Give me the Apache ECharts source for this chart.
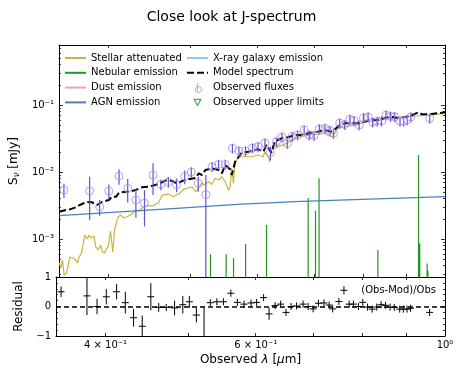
<!DOCTYPE html>
<html><head><meta charset="utf-8">
<script src="https://cdn.jsdelivr.net/npm/echarts@6/dist/echarts.min.js"></script>
<style>html,body{margin:0;padding:0;background:#fff}#c{width:463px;height:378px}</style>
</head><body><div id="c"></div>
<script>
// ---------- data (wavelength in micron, flux in mJy) ----------
const obsWave = [0.3548,0.3805,0.3910,0.4009,0.4122,0.4220,0.4315,0.4417,0.4521,0.4618,
  0.4713,0.4820,0.4928,0.5016,0.5112,0.5219,0.5308,0.5403,0.5500,0.5610,
  0.5710,0.5814,0.5925,0.6015,0.6129,0.6220,0.6323,0.6418,0.6512,0.6601,
  0.6699,0.6818,0.6912,0.7005,0.7106,0.7213,0.7315,0.7385,0.7510,0.7613,
  0.7721,0.7810,0.7917,0.8010,0.8114,0.8214,0.8318,0.8416,0.8518,0.8623,
  0.8721,0.8849,0.8936,0.9026,0.9112,0.9593];
const obsFlux = [5.39e-3,5.20e-3,3.03e-3,5.20e-3,8.72e-3,5.71e-3,3.82e-3,3.44e-3,9.02e-3,6.55e-3,
  7.10e-3,6.50e-3,8.57e-3,1.00e-2,6.78e-3,4.61e-3,1.20e-2,1.30e-2,1.30e-2,2.26e-2,
  2.06e-2,2.06e-2,2.28e-2,2.39e-2,2.71e-2,1.95e-2,2.83e-2,3.33e-2,2.66e-2,3.39e-2,
  3.57e-2,4.24e-2,3.57e-2,3.51e-2,4.42e-2,4.49e-2,4.19e-2,3.78e-2,5.39e-2,5.11e-2,
  6.12e-2,5.83e-2,5.03e-2,6.44e-2,6.62e-2,5.57e-2,5.73e-2,5.77e-2,7.10e-2,6.78e-2,
  6.68e-2,5.73e-2,5.73e-2,6.04e-2,6.62e-2,6.33e-2];
const obsErr = [1.3e-3,3.3e-3,0.8e-3,1.3e-3,2.25e-3,2.2e-3,1.75e-3,1.9e-3,4.5e-3,1.2e-3,
  1.3e-3,1.5e-3,2.0e-3,1.8e-3,1.7e-3,4.4e-3,2.0e-3,2.2e-3,2.2e-3,3.8e-3,
  3.5e-3,3.5e-3,3.9e-3,4.1e-3,4.6e-3,4.5e-3,4.8e-3,5.7e-3,4.5e-3,5.8e-3,
  6.1e-3,7.2e-3,6.1e-3,6.0e-3,7.5e-3,7.6e-3,7.1e-3,6.4e-3,9.2e-3,8.7e-3,
  1.04e-2,9.9e-3,8.6e-3,1.09e-2,1.13e-2,9.5e-3,9.7e-3,9.8e-3,1.21e-2,1.15e-2,
  1.14e-2,9.7e-3,9.7e-3,1.03e-2,1.13e-2,1.08e-2];
const resVal = [0.50,0.36,0.00,0.33,0.50,0.13,-0.38,-0.67,0.33,-0.03,
  -0.03,-0.05,0.06,0.16,-0.29,-1.35,0.13,0.16,0.16,0.45,
  0.14,0.08,0.12,0.14,0.30,-0.25,0.03,0.08,-0.20,0.00,
  0.02,0.08,0.00,-0.08,0.11,0.12,0.05,-0.08,0.17,0.55,
  0.08,0.08,0.00,0.14,-0.02,-0.09,-0.02,0.06,0.04,-0.02,
  -0.03,-0.09,-0.09,-0.09,-0.06,-0.20];
const resErr = [0.18,0.65,0.26,0.26,0.26,0.37,0.30,0.36,0.46,0.15,
  0.12,0.25,0.30,0.20,0.25,1.35,0.10,0.10,0.10,0.10,
  0.10,0.10,0.10,0.10,0.10,0.20,0.10,0.10,0.12,0.10,
  0.10,0.10,0.10,0.10,0.10,0.10,0.10,0.10,0.10,0.14,
  0.10,0.10,0.10,0.10,0.10,0.10,0.10,0.10,0.10,0.10,
  0.10,0.10,0.10,0.10,0.10,0.12];
const stellarWave = [0.3503,0.3519,0.3534,0.3550,0.3573,0.3584,0.3606,0.3618,0.3648,0.3671,
  0.3681,0.3698,0.3721,0.3731,0.3755,0.3763,0.3781,0.3799,0.3822,0.3851,
  0.3868,0.3895,0.3921,0.3938,0.3963,0.3974,0.4002,0.4027,0.4036,0.4052,
  0.4074,0.4089,0.4111,0.4137,0.4175,0.4212,0.4269,0.4315,0.4347,0.4406,
  0.4466,0.4526,0.4554,0.4588,0.4629,0.4663,0.4713,0.4777,0.4820,0.4851,
  0.4917,0.5029,0.5074,0.5121,0.5166,0.5186,0.5260,0.5306,0.5354,0.5403,
  0.5451,0.5500,0.5551,0.5575,0.5600,0.5626,0.5651,0.5703,0.5806,0.5912,
  0.6018,0.6101,0.6126,0.6183,0.6210,0.6238,0.6352,0.6466,0.6584,0.6704,
  0.6825,0.6949,0.7076,0.7203,0.7300,0.7368,0.7469,0.7603,0.7741,0.7881,
  0.8095,0.8318,0.8546,0.8780,0.9018,0.9266,0.9603,1.0];
const stellarFlux = [4.38e-4,3.69e-4,4.86e-4,2.90e-4,3.11e-4,3.69e-4,5.38e-4,5.38e-4,5.12e-4,4.70e-4,
  4.38e-4,5.38e-4,6.18e-4,7.34e-4,1.148e-3,1.208e-3,1.0e-3,1.148e-3,1.035e-3,1.109e-3,
  7.67e-4,6.85e-4,8.13e-4,6.46e-4,6.18e-4,6.85e-4,7.67e-4,1.316e-3,1.035e-3,6.40e-4,
  1.41e-3,1.675e-3,2.13e-3,2.28e-3,2.06e-3,2.15e-3,2.36e-3,2.71e-3,2.62e-3,3.00e-3,
  3.16e-3,3.11e-3,3.33e-3,3.45e-3,4.38e-3,4.61e-3,4.69e-3,4.28e-3,4.54e-3,4.69e-3,
  5.57e-3,5.97e-3,5.03e-3,5.87e-3,6.97e-3,6.40e-3,7.16e-3,6.50e-3,8.05e-3,7.60e-3,
  8.51e-3,7.16e-3,5.38e-3,6.04e-3,1.135e-2,6.78e-3,1.349e-2,1.69e-2,1.69e-2,1.69e-2,
  1.795e-2,1.69e-2,2.01e-2,1.69e-2,1.425e-2,2.13e-2,2.39e-2,2.59e-2,2.95e-2,3.37e-2,
  3.45e-2,3.57e-2,3.69e-2,3.78e-2,3.45e-2,3.37e-2,4.49e-2,4.74e-2,4.94e-2,5.15e-2,
  5.63e-2,5.83e-2,6.33e-2,6.46e-2,6.68e-2,6.86e-2,7.10e-2,7.52e-2];
const modelWave = [0.3503,0.3567,0.3606,0.3664,0.3704,0.3769,0.3833,0.3854,0.3881,0.3938,
  0.3980,0.4009,0.4045,0.4089,0.4120,0.4195,0.4240,0.4309,0.4385,0.4466,
  0.4547,0.4613,0.4672,0.4755,0.4806,0.4838,0.4891,0.4980,0.5070,0.5121,
  0.5166,0.5212,0.5306,0.5403,0.5451,0.5500,0.5575,0.5600,0.5651,0.5754,
  0.5858,0.6018,0.6101,0.6155,0.6238,0.6294,0.6409,0.6525,0.6644,0.6764,
  0.6949,0.7076,0.7203,0.7334,0.7400,0.7469,0.7603,0.7881,0.8024,0.8168,
  0.8318,0.8467,0.8623,0.8780,0.8936,0.9099,0.9306,0.9391,0.9603,0.9779,1.0];
const modelFlux = [2.55e-3,2.71e-3,2.77e-3,2.97e-3,3.22e-3,3.56e-3,3.53e-3,3.30e-3,3.22e-3,3.60e-3,
  3.73e-3,3.82e-3,4.28e-3,4.28e-3,4.91e-3,5.08e-3,5.08e-3,5.38e-3,5.91e-3,6.04e-3,
  6.40e-3,6.85e-3,7.46e-3,7.41e-3,6.92e-3,6.78e-3,7.34e-3,7.78e-3,8.13e-3,9.57e-3,
  9.02e-3,1.071e-2,1.135e-2,1.071e-2,9.57e-3,1.272e-2,1.096e-2,9.02e-3,1.425e-2,1.94e-2,
  2.01e-2,2.18e-2,2.01e-2,2.53e-2,1.94e-2,2.83e-2,3.18e-2,3.30e-2,3.57e-2,3.57e-2,
  3.86e-2,4.00e-2,4.24e-2,4.00e-2,4.24e-2,4.74e-2,5.33e-2,5.33e-2,5.63e-2,5.97e-2,
  5.97e-2,6.33e-2,6.68e-2,6.46e-2,6.55e-2,6.86e-2,7.78e-2,7.26e-2,7.26e-2,7.52e-2,7.78e-2];
const agnWave = [0.3503,0.4764,0.5754,0.6764,1.0];
const agnFlux = [2.23e-3,2.85e-3,3.31e-3,3.65e-3,4.28e-3];
const nebWave = [0.5285,0.5515,0.5627,0.5815,0.6155,0.6893,0.7032,0.7100,0.8332,0.9306,0.9336,0.9525,0.9545];
const nebPeak = [5.9e-4,5.9e-4,5.15e-4,8.4e-4,1.62e-3,4.1e-3,2.64e-3,8.05e-3,6.86e-4,1.80e-2,8.6e-4,4.3e-4,3.4e-4];
const xTickWaves = [0.4,0.5,0.6,0.7,0.8,0.9,1.0];
const xLabelWaves = [0.4,0.6,1.0];
const xLabelTexts = ['4 × 10⁻¹','6 × 10⁻¹','10⁰'];
const yLabelFluxes = [1e-3,1e-2,1e-1];
const yLabelTexts = ['10⁻³','10⁻²','10⁻¹'];
const resLabelVals = [-1,0,1];
const resLabelTexts = ['−1','0','1'];
const resMinorVals = [-0.8,-0.6,-0.4,-0.2,0.2,0.4,0.6,0.8];
const xRange = [0.35,1.0];
const yRange = [2.71e-4,0.787];
const resRange = [-1,1];

// ---------- build ----------
const FONT = 'DejaVu Sans';
const L = Math.log10;
const X0 = L(xRange[0]), X1 = L(xRange[1]);
const Y0 = L(yRange[0]), Y1 = L(yRange[1]);
const yMinorVals = [];
[-4,-3,-2,-1].forEach(n => { for (let k = 2; k <= 9; k++) { const v = L(k * Math.pow(10, n)); if (v >= Y0 && v <= Y1) yMinorVals.push(v); } });
const xTicks = xTickWaves.map(L);
const pair = (ws, fs) => ws.map((w, i) => [L(w), L(fs[i])]);
function fmtFrom(vals, texts) { return v => { const i = vals.findIndex(t => Math.abs(t - v) < 1e-6); return i >= 0 ? texts[i] : ''; }; }

function axis(g, pos, min, max, ticks, len, showLine, labelVals, labelTexts, margin, extra) {
  return Object.assign({
    type: 'value', gridIndex: g, position: pos, min: min, max: max,
    axisLine: { show: showLine, onZero: false, lineStyle: { color: '#000', width: 1 } },
    axisTick: { show: true, inside: true, length: len, customValues: ticks, lineStyle: { color: '#000', width: 0.8 } },
    axisLabel: labelVals ? { show: true, customValues: labelVals, formatter: fmtFrom(labelVals, labelTexts), margin: margin,
      fontSize: 10, color: '#000', fontFamily: FONT } : { show: false },
    splitLine: { show: false }, splitArea: { show: false }
  }, extra || {});
}

const xAxes = [
  axis(0, 'bottom', X0, X1, xTicks, 3, true),
  axis(0, 'top', X0, X1, xTicks, 3, true),
  axis(1, 'bottom', X0, X1, xTicks, 3, true, xLabelWaves.map(L), xLabelTexts, 4, {
    name: 'Observed {i|λ} [{i|μ}m]', nameLocation: 'middle', nameGap: 18,
    nameTextStyle: { fontSize: 12, fontFamily: FONT, color: '#000', rich: { i: { fontSize: 12, fontFamily: FONT, fontStyle: 'italic', color: '#000' } } }
  }),
  axis(1, 'top', X0, X1, xTicks, 3, true)
];
const yAxes = [
  axis(0, 'left', Y0, Y1, yLabelFluxes.map(L), 4, true, yLabelFluxes.map(L), yLabelTexts, 5, {
    name: 'S{s|ν} [mJy]', nameLocation: 'middle', nameGap: 32,
    nameTextStyle: { fontSize: 12, fontFamily: FONT, color: '#000', rich: { s: { fontSize: 8.5, fontFamily: FONT, fontStyle: 'italic', color: '#000', verticalAlign: 'bottom', padding: [5, 0, 0, 0] } } }
  }),
  axis(0, 'left', Y0, Y1, yMinorVals, 2, false),
  axis(0, 'right', Y0, Y1, yLabelFluxes.map(L), 4, true),
  axis(0, 'right', Y0, Y1, yMinorVals, 2, false),
  axis(1, 'left', resRange[0], resRange[1], resLabelVals, 4, true, resLabelVals, resLabelTexts, 5, {
    name: 'Residual', nameLocation: 'middle', nameGap: 23,
    nameTextStyle: { fontSize: 12, fontFamily: FONT, color: '#000' }
  }),
  axis(1, 'left', resRange[0], resRange[1], resMinorVals, 2, false),
  axis(1, 'right', resRange[0], resRange[1], resLabelVals, 4, true),
  axis(1, 'right', resRange[0], resRange[1], resMinorVals, 2, false)
];

const nebData = [];
nebWave.forEach((w, i) => { nebData.push([L(w), Y0 - 3], [L(w), L(nebPeak[i])], [L(w), Y0 - 3]); });
const errData = obsWave.map((w, i) => [L(w), L(obsFlux[i]), L(Math.max(obsFlux[i] - obsErr[i], 1e-7)), L(obsFlux[i] + obsErr[i])]);
const resData = obsWave.map((w, i) => [L(w), resVal[i], resErr[i]]);

const C = { stellar: '#c9b53e', neb: '#1f961f', dust: '#f5a3aa', agn: '#4a7fc1', xray: '#88cdf3', obs: '#a888ee', bar: '#6050d2', ul: '#1f961f' };
const lineS = (name, data, color, width, extra) => Object.assign({ name, type: 'line', xAxisIndex: 0, yAxisIndex: 0, data, symbol: 'none', showSymbol: false,
  clip: true, lineStyle: { color, width }, itemStyle: { color }, emphasis: { disabled: true } }, extra || {});
const noSym = { opacity: 0 };

const chart = echarts.init(document.getElementById('c'), null, { renderer: 'canvas' });
chart.setOption({
  animation: false,
  backgroundColor: '#fff',
  title: { text: 'Close look at J-spectrum', left: 'center', top: 5, textStyle: { fontSize: 14, fontWeight: 'normal', fontFamily: FONT, color: '#000' } },
  grid: [{ left: 56, top: 45, width: 389, height: 232 }, { left: 56, top: 277, width: 389, height: 59 }],
  xAxis: xAxes, yAxis: yAxes,
  legend: [
    { left: 64, top: 52, orient: 'vertical', itemWidth: 21, itemHeight: 10, itemGap: 2.8, padding: 0, selectedMode: false,
      textStyle: { fontSize: 10, fontFamily: FONT, color: '#000', lineHeight: 12 },
      itemStyle: noSym,
      data: ['Stellar attenuated', 'Nebular emission', 'Dust emission', 'AGN emission'] },
    { left: 186, top: 52, orient: 'vertical', itemWidth: 21, itemHeight: 10, itemGap: 2.8, padding: 0, selectedMode: false,
      textStyle: { fontSize: 10, fontFamily: FONT, color: '#000', lineHeight: 12 },
      data: [{ name: 'X-ray galaxy emission', itemStyle: noSym }, { name: 'Model spectrum', itemStyle: noSym },
        { name: 'Observed fluxes', icon: 'path://M0,0M10,10M8.3,5A3.3,3.3,0,1,1,8.29,4.99ZM5,0.8L5,9.2',
          itemStyle: { color: 'transparent', borderColor: C.obs, borderWidth: 1 } },
        { name: 'Observed upper limits', icon: 'path://M0,0M10,10M1.6,2L8.4,2L5,8.2Z',
          itemStyle: { color: 'transparent', borderColor: C.ul, borderWidth: 1.2 } }] }
  ],
  series: [
    lineS('Stellar attenuated', pair(stellarWave, stellarFlux), C.stellar, 1.2, { z: 2 }),
    lineS('Nebular emission', nebData, C.neb, 1.2, { z: 2 }),
    lineS('Dust emission', [], C.dust, 1.2),
    lineS('AGN emission', pair(agnWave, agnFlux), C.agn, 1.3, { z: 3 }),
    lineS('X-ray galaxy emission', [], C.xray, 1.2),
    lineS('Model spectrum', pair(modelWave, modelFlux), '#000', 2, { z: 4, lineStyle: { color: '#000', width: 2, type: [7, 3] } }),
    { name: 'obs-err', type: 'custom', xAxisIndex: 0, yAxisIndex: 0, data: errData, z: 5, clip: true,
      encode: { x: 0, y: 1 },
      renderItem: (p, api) => {
        const a = api.coord([api.value(0), Math.max(api.value(2), Y0)]);
        const b = api.coord([api.value(0), Math.min(api.value(3), Y1)]);
        return { type: 'line', shape: { x1: a[0], y1: a[1], x2: b[0], y2: b[1] }, style: { stroke: C.bar, lineWidth: 1.2 } };
      } },
    { name: 'Observed fluxes', type: 'scatter', xAxisIndex: 0, yAxisIndex: 0, data: pair(obsWave, obsFlux), z: 6,
      symbol: 'circle', symbolSize: 8, itemStyle: { color: 'transparent', borderColor: C.obs, borderWidth: 1 }, emphasis: { disabled: true } },
    { name: 'Observed upper limits', type: 'scatter', xAxisIndex: 0, yAxisIndex: 0, data: [],
      symbol: 'path://M0,0L10,0L5,9Z', symbolSize: 8, itemStyle: { color: 'transparent', borderColor: C.ul, borderWidth: 1.2 } },
    { name: 'residual', type: 'custom', xAxisIndex: 2, yAxisIndex: 4, data: resData, z: 5, clip: true,
      encode: { x: 0, y: 1 },
      renderItem: (p, api) => {
        const x = api.value(0), r = api.value(1), e = api.value(2);
        const c = api.coord([x, r]);
        const lo = api.coord([x, Math.max(r - e, -1)]);
        const hi = api.coord([x, Math.min(r + e, 1)]);
        const kids = [];
        const top = Math.min(hi[1], c[1] - 3.5), bot = Math.max(lo[1], c[1] + 3.5);
        kids.push({ type: 'line', shape: { x1: c[0], y1: top, x2: c[0], y2: bot }, style: { stroke: '#000', lineWidth: 1 } });
        if (r >= -1 && r <= 1) kids.push({ type: 'line', shape: { x1: c[0] - 3.5, y1: c[1], x2: c[0] + 3.5, y2: c[1] }, style: { stroke: '#000', lineWidth: 1 } });
        return { type: 'group', children: kids };
      },
      markLine: { silent: true, symbol: ['none', 'none'], label: { show: false }, animation: false,
        lineStyle: { color: '#000', type: [5, 3], width: 1.5 }, data: [{ yAxis: 0 }] } }
  ],
  graphic: [{ type: 'text', right: 27, top: 285, style: { text: '(Obs-Mod)/Obs', fontSize: 10, fontFamily: FONT, fill: '#000' } }]
});
</script></body></html>
